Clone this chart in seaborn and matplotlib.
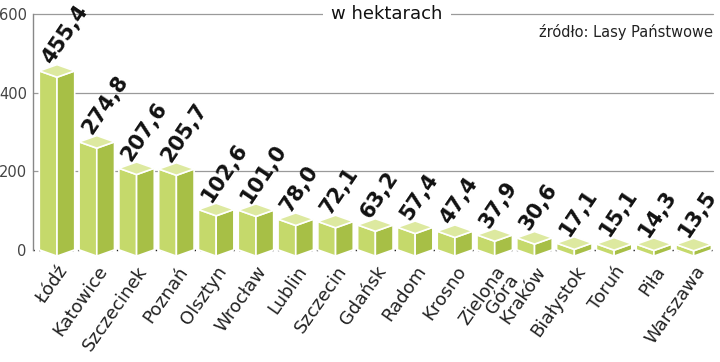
import matplotlib
matplotlib.use("Agg")
import matplotlib.pyplot as plt
import seaborn as sns
import pandas as pd
from matplotlib.patches import Polygon

cities = ["Łódź", "Katowice", "Szczecinek", "Poznań", "Olsztyn", "Wrocław",
          "Lublin", "Szczecin", "Gdańsk", "Radom", "Krosno", "Zielona\nGóra",
          "Kraków", "Białystok", "Toruń", "Piła", "Warszawa"]
hectares = [455.4, 274.8, 207.6, 205.7, 102.6, 101.0, 78.0, 72.1, 63.2,
            57.4, 47.4, 37.9, 30.6, 17.1, 15.1, 14.3, 13.5]
yticks = [0, 200, 400, 600]

df = pd.DataFrame({"city": cities, "ha": hectares})

sns.set_theme(style="white")
plt.rcParams["font.family"] = ["DejaVu Sans Condensed", "DejaVu Sans"]

LEFT = "#c5d96b"
RIGHT = "#a7bf46"
TOP = "#dde9a0"
DEPTH = 16  # half height of the top rhombus, in data units

fig = plt.figure(figsize=(7.2, 3.62), dpi=100)
ax = fig.add_axes([0.046, 0.286, 0.944, 0.675])

sns.barplot(data=df, x="city", y="ha", color=LEFT, width=0.89, ax=ax,
            saturation=1)

for p, v in zip(ax.patches, hectares):
    x0 = p.get_x()
    x1 = x0 + p.get_width()
    xc = (x0 + x1) / 2
    p.set_visible(False)
    faces = [
        ([(x0, 0), (xc, -DEPTH), (xc, v - DEPTH), (x0, v)], LEFT),
        ([(xc, -DEPTH), (x1, 0), (x1, v), (xc, v - DEPTH)], RIGHT),
        ([(x0, v), (xc, v - DEPTH), (x1, v), (xc, v + DEPTH)], TOP),
    ]
    for pts, c in faces:
        ax.add_patch(Polygon(pts, closed=True, facecolor=c, edgecolor="white",
                             linewidth=1.2, zorder=3))
    ax.text(xc - 0.26, v + DEPTH + 8, f"{v:.1f}".replace(".", ","),
            rotation=56, rotation_mode="anchor", ha="left", va="center",
            fontsize=15, fontweight="bold", color="#111111", zorder=4)

ax.set_xlim(-0.6, len(cities) - 0.52)
ax.set_ylim(-22, 600)
ax.set_yticks(yticks)
ax.set_yticklabels([str(t) for t in yticks], fontsize=10.5, color="#444444")

for t in yticks[1:]:
    ax.axhline(t, color="#9a9a9a", lw=0.9, zorder=1, clip_on=False)
ax.axhline(0, color="#222222", lw=1.0, ls=(0, (1, 3)), zorder=1)

ax.set_xticks(range(len(cities)))
ax.set_xticklabels(cities, rotation=55, ha="right", rotation_mode="anchor",
                   fontsize=13, color="#222222", linespacing=0.8)
ax.tick_params(axis="x", length=0, pad=3)
ax.tick_params(axis="y", length=3, width=1, color="#333333", pad=1.5)
ax.set_xlabel("")
ax.set_ylabel("")

for s in ["top", "right", "bottom"]:
    ax.spines[s].set_visible(False)
ax.spines["left"].set_bounds(0, 600)
ax.spines["left"].set_color("#888888")
ax.spines["left"].set_linewidth(1)

ax.text(0.52, 1.0, "w hektarach", transform=ax.transAxes, ha="center",
        va="center", fontsize=13, color="#111111",
        bbox=dict(facecolor="white", edgecolor="none", pad=6), zorder=5)
ax.text(1.0, 0.925, "źródło: Lasy Państwowe", transform=ax.transAxes,
        ha="right", va="center", fontsize=10.5, color="#222222")

fig.savefig("out.png", dpi=100)
